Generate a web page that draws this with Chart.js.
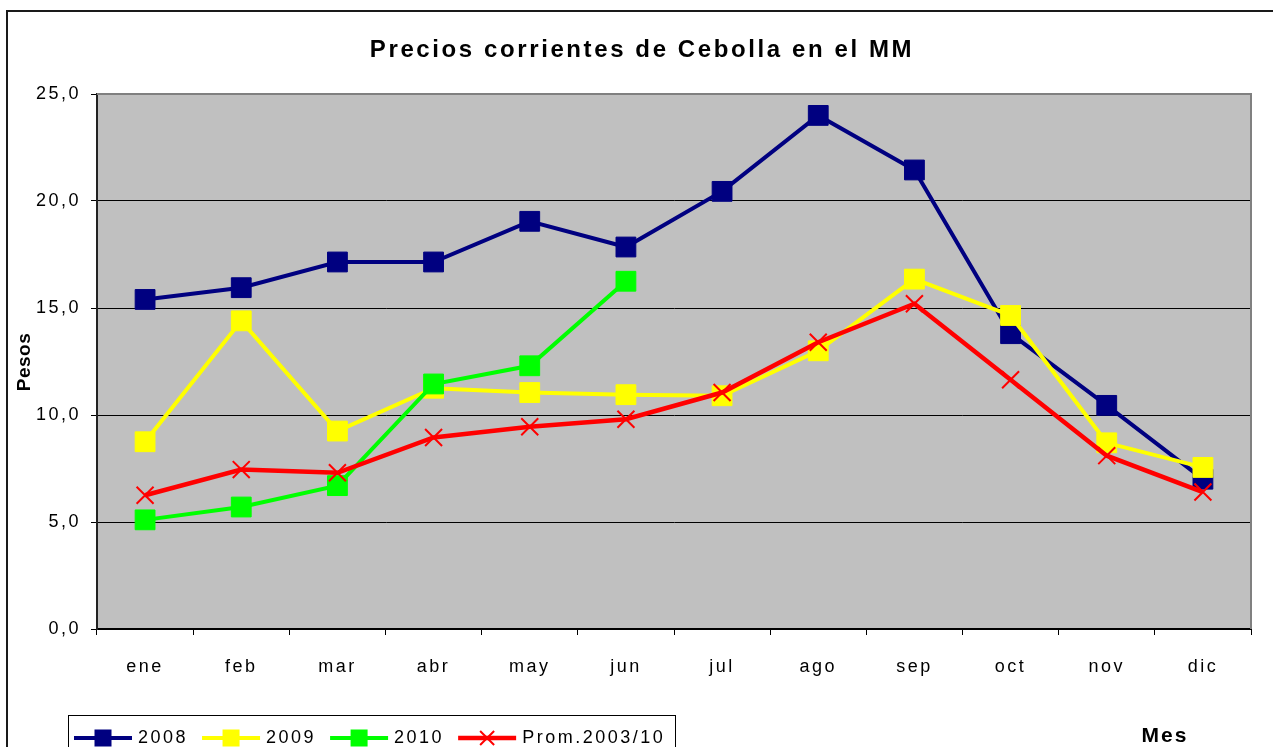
<!DOCTYPE html>
<html>
<head>
<meta charset="utf-8">
<script src="https://cdn.jsdelivr.net/npm/chart.js@4.4.0/dist/chart.umd.min.js"></script>
<style>
  body { margin: 0; background: #fff; }
  canvas { display: block; }
</style>
</head>
<body>
<canvas id="myChart" width="1273" height="747"></canvas>
<script>
// data
var meses = ['ene', 'feb', 'mar', 'abr', 'may', 'jun', 'jul', 'ago', 'sep', 'oct', 'nov', 'dic'];
var precios2008 = [15.4, 15.95, 17.15, 17.15, 19.05, 17.85, 20.45, 24.0, 21.45, 13.8, 10.45, 7.0];
var precios2009 = [8.75, 14.4, 9.25, 11.25, 11.05, 10.95, 10.9, 13.0, 16.35, 14.65, 8.7, 7.55];
var precios2010 = [5.1, 5.7, 6.7, 11.45, 12.3, 16.25, null, null, null, null, null, null];
var promedio = [6.25, 7.45, 7.3, 8.95, 9.45, 9.8, 11.05, 13.4, 15.2, 11.65, 8.1, 6.4];
var yTicks = [0, 5, 10, 15, 20, 25];

var fontFamily = '"Liberation Sans", Arial, sans-serif';
var spacing = '2.5px';

// excel-like stretched text
var spacingPlugin = {
    id: 'spacing',
    beforeUpdate: function (chart) { chart.ctx.letterSpacing = spacing; },
    beforeDraw: function (chart) { chart.ctx.letterSpacing = spacing; }
};

// chart border, plot background, titles
var framePlugin = {
    id: 'frame',
    beforeDraw: function (chart) {
        var ctx = chart.ctx, a = chart.chartArea;
        ctx.save();
        ctx.fillStyle = '#ffffff';
        ctx.fillRect(0, 0, chart.width, chart.height);
        ctx.strokeStyle = '#1a1a1a';
        ctx.lineWidth = 2;
        ctx.strokeRect(7, 11, chart.width + 40, chart.height + 40);
        ctx.fillStyle = '#c0c0c0';
        ctx.fillRect(a.left, a.top, a.right - a.left, a.bottom - a.top);
        ctx.restore();
    },
    beforeDatasetsDraw: function (chart) {
        var ctx = chart.ctx, a = chart.chartArea;
        ctx.save();
        ctx.strokeStyle = '#808080';
        ctx.lineWidth = 2;
        ctx.beginPath();
        ctx.moveTo(a.left, a.top);
        ctx.lineTo(a.right, a.top);
        ctx.lineTo(a.right, a.bottom);
        ctx.stroke();
        ctx.restore();
    },
    afterDraw: function (chart) {
        var ctx = chart.ctx;
        ctx.save();
        ctx.fillStyle = '#000';
        ctx.textAlign = 'center';
        ctx.textBaseline = 'middle';
        ctx.letterSpacing = '2.6px';
        ctx.font = 'bold 24px ' + fontFamily;
        ctx.fillText('Precios corrientes de Cebolla en el MM', 642, 50);

        ctx.letterSpacing = '2px';
        ctx.font = 'bold 21px ' + fontFamily;
        ctx.fillText('Mes', 1165, 736);

        ctx.translate(25, 362);
        ctx.rotate(-Math.PI / 2);
        ctx.letterSpacing = '0.5px';
        ctx.font = 'bold 19px ' + fontFamily;
        ctx.fillText('Pesos', 0, 0);
        ctx.restore();
    }
};

// boxed legend bottom-left, line + marker like excel
var legendPlugin = {
    id: 'boxLegend',
    afterDraw: function (chart) {
        var ctx = chart.ctx;
        var top = 715, left = 68, right = 675, cy = 738;
        ctx.save();
        ctx.letterSpacing = spacing;
        ctx.strokeStyle = '#000';
        ctx.lineWidth = 1;
        ctx.strokeRect(left + 0.5, top + 0.5, right - left, 60);
        ctx.font = '18px ' + fontFamily;
        ctx.textBaseline = 'middle';
        ctx.textAlign = 'left';
        var x = 74;
        chart.data.datasets.forEach(function (ds) {
            var mid = x + 29;
            ctx.strokeStyle = ds.borderColor;
            ctx.lineWidth = ds.borderWidth;
            ctx.beginPath();
            ctx.moveTo(x, cy);
            ctx.lineTo(x + 58, cy);
            ctx.stroke();
            if (ds.pointStyle === 'rect') {
                ctx.fillStyle = ds.pointBackgroundColor;
                ctx.fillRect(mid - 8.5, cy - 8.5, 17, 17);
            } else {
                ctx.strokeStyle = ds.pointBorderColor;
                ctx.lineWidth = 2;
                ctx.beginPath();
                ctx.moveTo(mid - 7, cy - 7); ctx.lineTo(mid + 7, cy + 7);
                ctx.moveTo(mid - 7, cy + 7); ctx.lineTo(mid + 7, cy - 7);
                ctx.stroke();
            }
            ctx.fillStyle = '#000';
            ctx.fillText(ds.label, x + 64, cy);
            x = x + 64 + ctx.measureText(ds.label).width + 14;
        });
        ctx.restore();
    }
};

function serie(label, data, color, width, style, radius, order) {
    return {
        label: label,
        data: data,
        borderColor: color,
        backgroundColor: color,
        borderWidth: width,
        pointStyle: style,
        pointRadius: radius,
        pointBackgroundColor: color,
        pointBorderColor: color,
        pointBorderWidth: style === 'rect' ? 1 : 2,
        tension: 0,
        spanGaps: false,
        order: order
    };
}

var ctx = document.getElementById('myChart').getContext('2d');
var myChart = new Chart(ctx, {
    type: 'line',
    data: {
        labels: meses,
        datasets: [
            serie('2008', precios2008, '#000080', 4, 'rect', 14, 3),
            serie('2009', precios2009, '#ffff00', 4, 'rect', 14, 2),
            serie('2010', precios2010, '#00ff00', 4, 'rect', 14, 1),
            serie('Prom.2003/10', promedio, '#ff0000', 4.5, 'crossRot', 12, 0)
        ]
    },
    options: {
        responsive: false,
        animation: false,
        events: [],
        layout: { padding: { top: 94, right: 22, left: 0, bottom: 0 } },
        plugins: {
            legend: { display: false },
            title: { display: false },
            tooltip: { enabled: false }
        },
        scales: {
            x: {
                offset: true,
                grid: {
                    offset: true,
                    drawOnChartArea: false,
                    drawTicks: true,
                    tickLength: 6,
                    color: '#000'
                },
                border: { display: true, color: '#000', width: 2 },
                ticks: {
                    color: '#000',
                    padding: 21,
                    maxRotation: 0,
                    font: { family: fontFamily, size: 18 }
                },
                afterFit: function (scale) { scale.height = 118; }
            },
            y: {
                min: 0,
                max: 25,
                afterBuildTicks: function (scale) {
                    scale.ticks = yTicks.map(function (v) { return { value: v }; });
                },
                grid: {
                    color: '#000',
                    lineWidth: 1,
                    drawTicks: true,
                    tickLength: 6
                },
                border: { display: true, color: '#222', width: 2 },
                ticks: {
                    color: '#000',
                    padding: 10,
                    font: { family: fontFamily, size: 18 },
                    callback: function (v) { return v.toFixed(1).replace('.', ','); }
                },
                afterFit: function (scale) { scale.width = 97; }
            }
        }
    },
    plugins: [spacingPlugin, framePlugin, legendPlugin]
});
</script>
</body>
</html>
